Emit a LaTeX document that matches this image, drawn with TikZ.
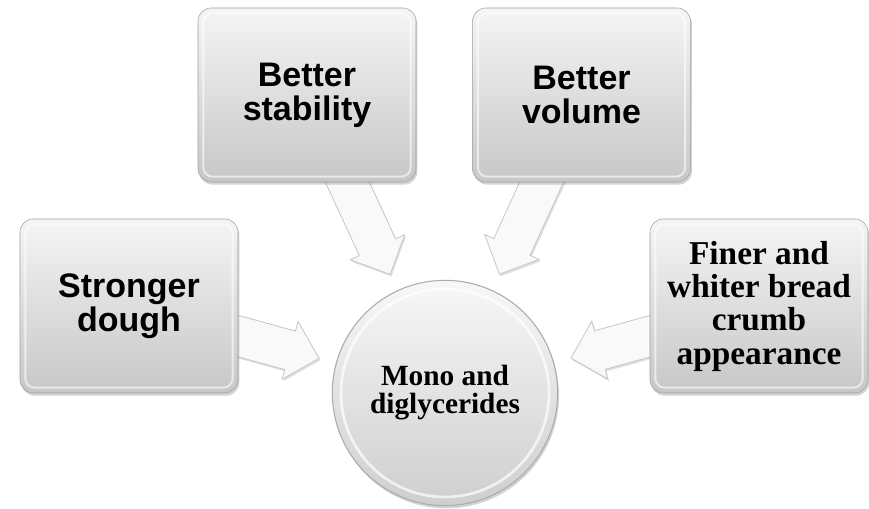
\documentclass[tikz,border=0pt]{standalone}
\usepackage{fontspec}
\setmainfont{Liberation Serif}
\setsansfont{Liberation Sans}
\usetikzlibrary{shapes,arrows,positioning,calc,shadows,backgrounds}

\begin{document}
\begin{tikzpicture}[
    x=0.75pt, y=0.75pt,
    benefit/.style={rectangle, draw=gray!75, rounded corners=10pt, minimum width=163.5pt, minimum height=130.5pt, align=center, top color=gray!8, bottom color=gray!44, drop shadow={opacity=0.35, shadow xshift=1pt, shadow yshift=-2pt}, font=\sffamily\bfseries\fontsize{25.5}{25.5}\selectfont,
        path picture={\draw[white, opacity=0.6, line width=1.5pt, rounded corners=7pt] ([shift={(4pt,-4pt)}]path picture bounding box.north west) rectangle ([shift={(-4pt,4pt)}]path picture bounding box.south east);}},
    serifbenefit/.style={benefit, font=\rmfamily\bfseries\fontsize{25}{25}\selectfont},
    emulsifier/.style={circle, draw=gray!65, line width=0.8pt, minimum size=169pt, align=center, top color=gray!6, bottom color=gray!38, drop shadow={opacity=0.35, shadow xshift=1pt, shadow yshift=-2pt}, font=\rmfamily\bfseries\fontsize{22}{21}\selectfont,
        path picture={\draw[white, opacity=0.7, line width=2pt] (path picture bounding box.center) circle (78pt);}},
    blockarrow/.style={fill=gray!5, draw=gray!45, line width=0.6pt, drop shadow={opacity=0.25, shadow xshift=1pt, shadow yshift=-1.5pt}}
]
\useasboundingbox (0,0) rectangle (869,509);

% Centre
\node[emulsifier] (mono) at (445,116) {Mono and\\diglycerides};

% Effects
\node[benefit] (stab) at (307,414) {Better\\stability};
\node[benefit, right=42pt of stab] (vol) {Better\\volume};
\node[benefit] (dough) at (129,203) {Stronger\\dough};
\node[serifbenefit] (finer) at (759,203) {Finer and\\whiter bread\\crumb\\appearance};

% Block arrows into the centre
\begin{scope}[on background layer]
\foreach \src in {dough,stab,vol,finer}{
    \coordinate (tip) at ($(mono)!98pt!(\src)$);
    \coordinate (base) at ($(tip)!22.5pt!(\src)$);
    \filldraw[blockarrow] ($(\src)!15pt!90:(tip)$) -- ($(base)!15pt!90:(tip)$) -- ($(base)!22.5pt!90:(tip)$) -- (tip)
        -- ($(base)!22.5pt!-90:(tip)$) -- ($(base)!15pt!-90:(tip)$) -- ($(\src)!15pt!-90:(tip)$) -- cycle;
}
\end{scope}

\end{tikzpicture}
\end{document}
